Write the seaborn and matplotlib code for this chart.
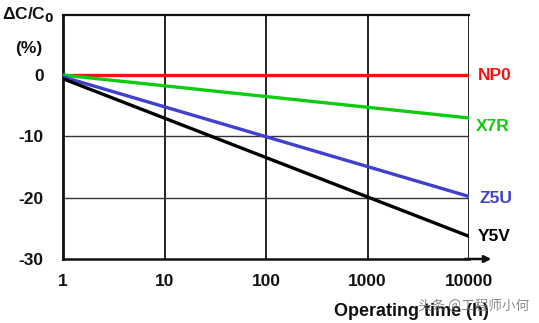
import matplotlib
matplotlib.use("Agg")
import matplotlib.pyplot as plt
import matplotlib.ticker as mticker
import numpy as np
import pandas as pd
import seaborn as sns

# Operating time (h) at the two ends of each ageing line
hours = [1, 10000]

# Capacitance change (%) per dielectric class
np0 = [0.0, 0.0]
x7r = [0.0, -7.0]
z5u = [-0.3, -19.8]
y5v = [-0.6, -26.3]

series_names = ["NP0", "X7R", "Z5U", "Y5V"]
series_values = [np0, x7r, z5u, y5v]
series_colors = ["#ff1010", "#10cc10", "#3f3fd0", "#000000"]

x_ticks = [1, 10, 100, 1000, 10000]
x_tick_labels = ["1", "10", "100", "1000", "10000"]
y_ticks = [0, -10, -20, -30]
y_tick_labels = ["0", "-10", "-20", "-30"]

df = pd.DataFrame({
    "hours": hours * len(series_names),
    "change": [v for vals in series_values for v in vals],
    "type": [n for n in series_names for _ in hours],
})

sns.set_theme(style="white")
plt.rcParams["font.family"] = ["Liberation Sans", "DejaVu Sans"]

FS = 12.5
fig = plt.figure(figsize=(5.39, 3.23), dpi=100)
ax = fig.add_axes([63 / 539, 1 - 259 / 323, (469 - 63) / 539, (259 - 15) / 323])

sns.lineplot(data=df, x="hours", y="change", hue="type", hue_order=series_names,
             palette=series_colors, linewidth=2.4, legend=False, ax=ax, zorder=5)

ax.set_xscale("log")
ax.set_xlim(1, 10000)
ax.set_ylim(-30, 9.8)

ax.xaxis.set_major_locator(mticker.FixedLocator(x_ticks))
ax.xaxis.set_minor_locator(mticker.NullLocator())
ax.set_xticks(x_ticks)
ax.set_xticklabels(x_tick_labels, fontsize=FS, fontweight="bold")
ax.set_yticks(y_ticks)
ax.set_yticklabels(y_tick_labels, fontsize=FS, fontweight="bold")
ax.tick_params(axis="x", length=0, pad=11, colors="#111111")
ax.tick_params(axis="y", length=0, pad=14, colors="#111111")
ax.set_xlabel("")
ax.set_ylabel("")

# grid: decades vertically, -10 / -20 horizontally
for xv in x_ticks[1:]:
    ax.axvline(xv, color="#222222", linewidth=1.4, zorder=2)
for yv in [-10, -20]:
    ax.axhline(yv, color="#333333", linewidth=1.0, zorder=2)

for side in ["left", "bottom", "top"]:
    ax.spines[side].set_visible(True)
    ax.spines[side].set_color("#111111")
ax.spines["left"].set_linewidth(2.0)
ax.spines["bottom"].set_linewidth(1.8)
ax.spines["top"].set_linewidth(1.6)
ax.spines["right"].set_visible(False)

# time axis arrow
ax.annotate("", xy=(1.055, 0), xycoords="axes fraction", xytext=(0.99, 0),
            textcoords="axes fraction",
            arrowprops=dict(arrowstyle="-|>", color="#111111", lw=1.8,
                            mutation_scale=10, shrinkA=0, shrinkB=0),
            annotation_clip=False)

# series labels at the right end
label_offsets = [0.0, -1.4, -0.3, 0.0]
label_x = [1.022, 1.017, 1.027, 1.022]
for name, vals, col, off, lx in zip(series_names, series_values, series_colors,
                                    label_offsets, label_x):
    ax.text(lx, (vals[-1] + off + 30) / 39.8, name, transform=ax.transAxes,
            color=col, fontsize=FS, fontweight="bold", ha="left", va="center")

fig.text(2 / 539, 1 - 15 / 323, "ΔC/C$_\\mathbf{0}$", fontsize=FS, fontweight="bold",
         ha="left", va="center", color="#111111")
fig.text(15 / 539, 1 - 48 / 323, "(%)", fontsize=FS, fontweight="bold",
         ha="left", va="center", color="#111111")
fig.text(411 / 539, 1 - 312 / 323, "Operating time (h)", fontsize=13, fontweight="bold",
         ha="center", va="center", color="#111111")
fig.text(418 / 539, 1 - 306 / 323, "头条 @工程师小何", fontsize=9.8,
         family=["Noto Sans CJK SC", "DejaVu Sans"], ha="left", va="center",
         color="#777777", alpha=0.85)

fig.savefig("out.png", dpi=100)
